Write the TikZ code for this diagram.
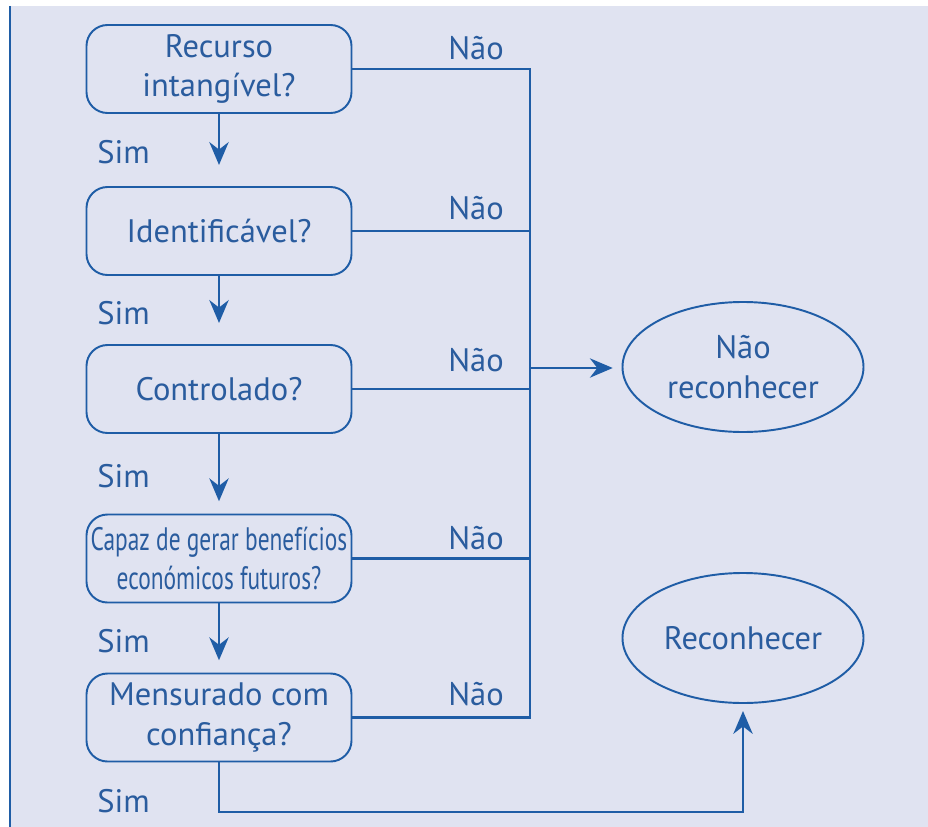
\documentclass[tikz,border=0pt]{standalone}
\usepackage{fontspec}
\setmainfont{PT Sans}
\usepackage{xcolor}
\usetikzlibrary{arrows.meta,shapes.geometric}
\definecolor{fundo}{HTML}{E0E3F1}
\definecolor{azul}{HTML}{1F5DA6}
\definecolor{texto}{HTML}{2A5C9E}

\begin{document}
\begin{tikzpicture}[
	caixa/.style={draw=azul,line width=1.1pt,rounded corners=0.42cm,minimum width=5.3cm,minimum height=1.76cm,align=center,text=texto,inner sep=1pt,font=\fontsize{18.5}{22.5}\selectfont},
	elipse/.style={draw=azul,line width=1.1pt,ellipse,minimum width=4.82cm,minimum height=2.6cm,align=center,text=texto,font=\fontsize{18.5}{23}\selectfont},
	rotulo/.style={text=texto,inner sep=0pt,font=\fontsize{18.5}{22.5}\selectfont},
	liga/.style={draw=azul,line width=1.2pt},
	seta/.style={liga,-{Stealth[length=13pt,width=11pt]}}]
	\useasboundingbox (0,0) rectangle (18.56,-16.54);
	\fill[white] (0,0) rectangle (18.56,-16.54);
	\fill[fundo] (0.22,-0.12) rectangle (18.56,-16.54);
	\draw[azul,line width=1.2pt] (0.2,-0.12) -- (0.2,-16.54);
	
	\node[caixa] (recurso) at (4.38,-1.38) {Recurso\\intangível?};
	\node[caixa] (ident) at (4.38,-4.62) {Identificável?};
	\node[caixa] (contr) at (4.38,-7.78) {Controlado?};
	\node[caixa] (capaz) at (4.38,-11.17) {\addfontfeatures{FakeStretch=0.72}Capaz de gerar benefícios\\\addfontfeatures{FakeStretch=0.72}económicos futuros?};
	\node[caixa] (mensur) at (4.38,-14.35) {Mensurado com\\confiança?};
	
	\node[elipse] (naorec) at (14.86,-7.34) {Não\\reconhecer};
	\node[elipse] (rec) at (14.86,-12.76) {Reconhecer};
	
	\draw[seta,shorten >=12pt] (recurso) -- (ident);
	\draw[seta,shorten >=12pt] (ident) -- (contr);
	\draw[seta,shorten >=7pt] (contr) -- (capaz);
	\draw[seta,shorten >=7pt] (capaz) -- (mensur);
	
	\coordinate (topo) at (10.6,-1.38);
	\coordinate (base) at (10.6,-14.35);
	\coordinate (junta) at (10.6,-7.36);
	\draw[liga] (recurso.east) -- (topo) -- (base) -- (mensur.east);
	\draw[liga] (ident.east) -- (ident.east -| topo);
	\draw[liga] (contr.east) -- (contr.east -| topo);
	\draw[liga] (capaz.east) -- (capaz.east -| topo);
	\draw[seta,shorten >=5pt] (junta) -- (naorec.west |- junta);
	
	\coordinate (canto1) at (4.38,-16.24);
	\coordinate (canto2) at (14.86,-16.24);
	\draw[seta,shorten >=4pt] (mensur.south) -- (canto1) -- (canto2) -- (rec.south);
	
	\node[rotulo,anchor=west] (sim1) at (1.94,-3.04) {Sim};
	\node[rotulo,anchor=west] (sim2) at (1.94,-6.26) {Sim};
	\node[rotulo,anchor=west] (sim3) at (1.94,-9.52) {Sim};
	\node[rotulo,anchor=west] (sim4) at (1.94,-12.82) {Sim};
	\node[rotulo,anchor=west] (sim5) at (1.94,-16.02) {Sim};
	
	\node[rotulo] (nao1) at (9.52,-0.96) {Não};
	\node[rotulo] (nao2) at (9.52,-4.16) {Não};
	\node[rotulo] (nao3) at (9.52,-7.2) {Não};
	\node[rotulo] (nao4) at (9.52,-10.76) {Não};
	\node[rotulo] (nao5) at (9.52,-13.88) {Não};
\end{tikzpicture}
\end{document}
